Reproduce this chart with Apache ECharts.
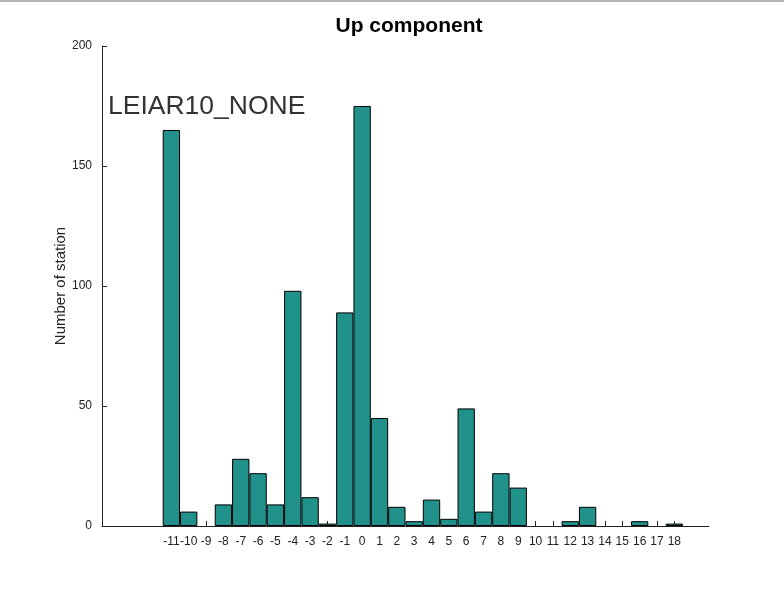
<!DOCTYPE html>
<html>
<head>
<meta charset="utf-8">
<script src="https://cdn.jsdelivr.net/npm/echarts@6/dist/echarts.min.js"></script>
<style>
  html, body { margin: 0; padding: 0; background: #fff; }
  #chart { width: 784px; height: 591px; }
</style>
</head>
<body>
<div id="chart"></div>
<script>
// Offset bins (mm) and the number of stations in each bin
var offsets = [-11, -10, -9, -8, -7, -6, -5, -4, -3, -2, -1, 0, 1, 2, 3, 4, 5, 6, 7, 8, 9, 10, 11, 12, 13, 14, 15, 16, 17, 18];
var stationCounts = [165, 6, 0, 9, 28, 22, 9, 98, 12, 1, 89, 175, 45, 8, 2, 11, 3, 49, 6, 22, 16, 0, 0, 2, 8, 0, 0, 2, 0, 1];
var yTicks = [0, 50, 100, 150, 200];
var antennaName = 'LEIAR10_NONE';
var chartTitle = 'Up component';

var font = 'Liberation Sans, Arial, Helvetica, sans-serif';

// empty bins are left out so only the axis tick shows there
var barData = offsets.map(function (x, i) {
  return [x, stationCounts[i] === 0 ? null : stationCounts[i]];
});

var chart = echarts.init(document.getElementById('chart'));
chart.setOption({
  backgroundColor: '#ffffff',
  animation: false,
  graphic: [
    {
      type: 'rect',
      shape: { x: 0, y: 0, width: 784, height: 2 },
      style: { fill: '#b4b4b4' }
    },
    {
      type: 'text',
      x: 409,
      y: 26,
      style: {
        text: chartTitle, font: 'bold 21px ' + font, fill: '#000',
        textAlign: 'center', textVerticalAlign: 'middle'
      }
    },
    {
      type: 'text',
      x: 108,
      y: 107,
      z: 10,
      style: {
        text: antennaName, font: '26.5px ' + font, fill: '#333',
        textAlign: 'left', textVerticalAlign: 'middle'
      }
    }
  ],
  grid: { left: 102, right: 75, top: 46, bottom: 65, containLabel: false },
  xAxis: {
    type: 'value',
    min: -15,
    max: 20,
    interval: 1,
    splitLine: { show: false },
    axisLine: { show: true, onZero: false, lineStyle: { color: '#222', width: 1 } },
    axisTick: { show: true, inside: true, length: 5, customValues: offsets, lineStyle: { color: '#222' } },
    axisLabel: {
      customValues: offsets,
      fontFamily: font, fontSize: 12, color: '#222', margin: 10
    }
  },
  yAxis: {
    type: 'value',
    min: 0,
    max: 200,
    interval: 50,
    name: 'Number of station',
    nameLocation: 'middle',
    nameGap: 34,
    nameMoveOverlap: false,
    nameTextStyle: { fontFamily: font, fontSize: 15, color: '#222' },
    splitLine: { show: false },
    axisLine: { show: true, onZero: false, lineStyle: { color: '#222', width: 1 } },
    axisTick: { show: true, inside: true, length: 5, customValues: yTicks, lineStyle: { color: '#222' } },
    axisLabel: { customValues: yTicks, fontFamily: font, fontSize: 12, color: '#222', margin: 10 }
  },
  series: [{
    type: 'bar',
    data: barData,
    barCategoryGap: '0%',
    itemStyle: { color: '#21918c', borderColor: '#000', borderWidth: 1 },
    z: 3
  }]
});
</script>
</body>
</html>
